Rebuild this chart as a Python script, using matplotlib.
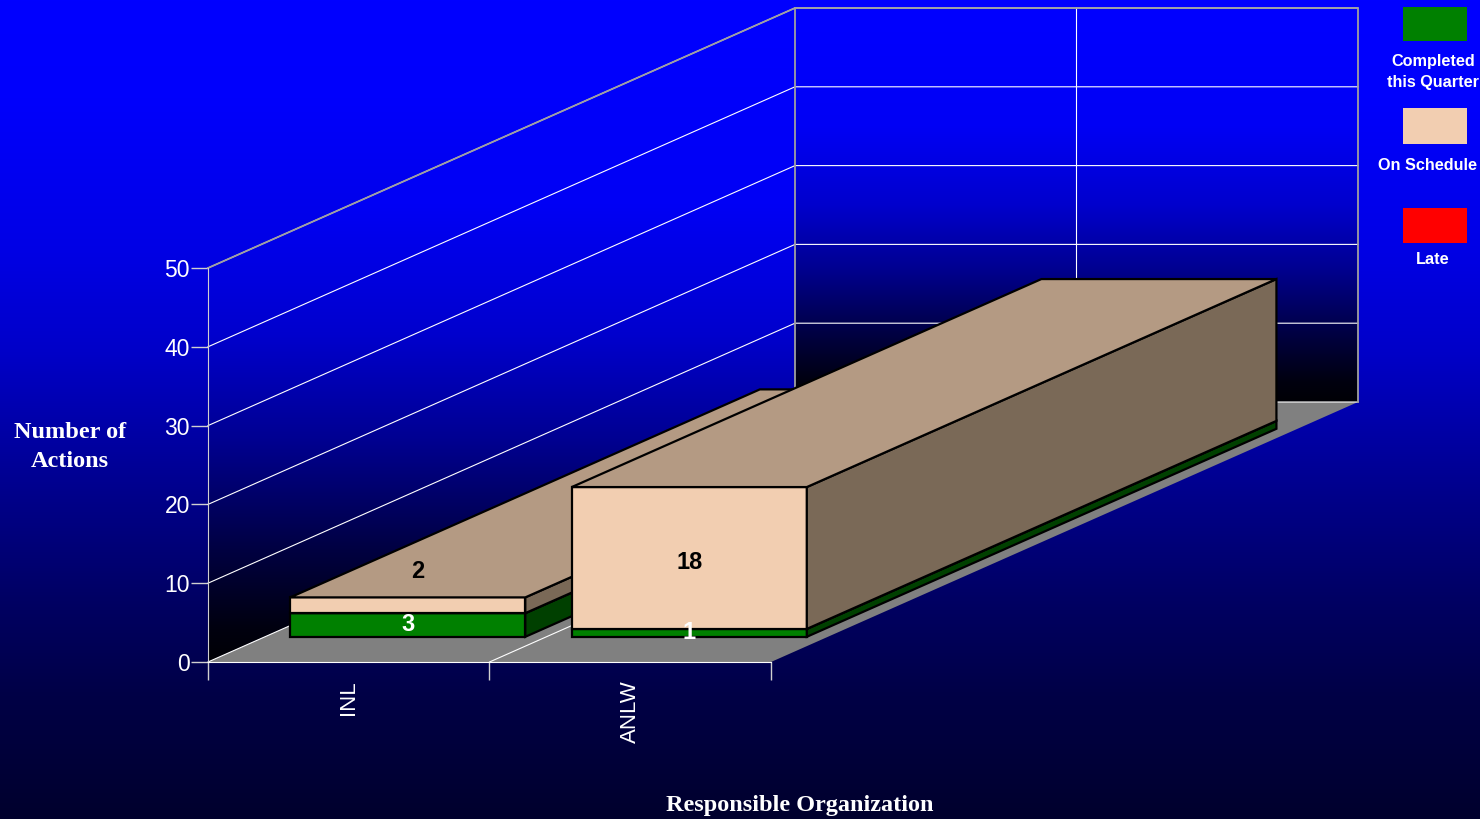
import numpy as np
import matplotlib
matplotlib.use("Agg")
import matplotlib.pyplot as plt
from matplotlib.patches import Polygon, Rectangle
from matplotlib.ticker import FixedLocator

# ---------------- data ----------------
categories = ["INL", "ANLW"]
series_names = ["Completed\nthis Quarter", "On Schedule", "Late"]
completed = [3, 1]
on_schedule = [2, 18]
late = [0, 0]
series_values = [completed, on_schedule, late]
y_ticks = [0, 10, 20, 30, 40, 50]
y_max = 50

# ---------------- style ----------------
front_cols = ["#008000", "#F2CEB1", "#FF0000"]
side_cols = ["#004000", "#7A6957", "#800000"]
top_cols = ["#006000", "#B49A83", "#C00000"]
label_cols = ["white", "black", "white"]
SANS = "Liberation Sans"
SERIF = "Liberation Serif"

W, H = 1480, 819
X0_PX, Y0_PX = 208, 662          # front origin of the plot box (pixels)
CAT_PX, VAL_PX = 281.5, 7.88      # pixels per category / per value unit
DEPTH_DX_PX, DEPTH_DY_PX = 587, 260
DX = DEPTH_DX_PX / CAT_PX
DV = DEPTH_DY_PX / VAL_PX
BAR_LEFT, BAR_W = 0.09, 0.835
D0, D1 = 0.097, 0.897

fig = plt.figure(figsize=(W / 100, H / 100), dpi=100)
ax = fig.add_axes([0, 0, 1, 1])
xlim = (-X0_PX / CAT_PX, (W - X0_PX) / CAT_PX)
ylim = (-(H - Y0_PX) / VAL_PX, Y0_PX / VAL_PX)


def P(x, v, d):
    return (x + d * DX, v + d * DV)


def grad(table_f, table_v, n=400):
    f = np.linspace(0, 1, n)
    b = np.interp(f, table_f, table_v) / 255.0
    img = np.zeros((n, 1, 3))
    img[:, 0, 2] = b
    return img


# background gradient
bg = grad([0, 0.12, 0.3, 0.43, 0.6, 0.73, 0.85, 1.0],
          [255, 252, 230, 200, 140, 100, 70, 45])
ax.imshow(bg, extent=(xlim[0], xlim[1], ylim[0], ylim[1]), aspect="auto",
          origin="upper", interpolation="bilinear", zorder=0)

wall_f = [0, 0.3, 0.5, 0.66, 0.83, 0.95, 1.0]
wall_v = [255, 245, 205, 145, 65, 15, 5]
ncat = len(categories)

# side wall
side_poly = Polygon([P(0, 0, 0), P(0, y_max, 0), P(0, y_max, 1), P(0, 0, 1)],
                    closed=True, transform=ax.transData)
im = ax.imshow(grad(wall_f, wall_v), extent=(0, DX, 0, y_max + DV), aspect="auto",
               origin="upper", interpolation="bilinear", zorder=1)
im.set_clip_path(side_poly)

# back wall
ax.imshow(grad(wall_f, wall_v), extent=(DX, ncat + DX, DV, y_max + DV), aspect="auto",
          origin="upper", interpolation="bilinear", zorder=1)

# floor
ax.add_patch(Polygon([P(0, 0, 0), P(ncat, 0, 0), P(ncat, 0, 1), P(0, 0, 1)],
                     closed=True, facecolor="#808080", edgecolor="none", zorder=2))

# gridlines
for v in y_ticks:
    a, b, c = P(0, v, 0), P(0, v, 1), P(ncat, v, 1)
    ax.plot([a[0], b[0], c[0]], [a[1], b[1], c[1]], color="white", lw=0.8, zorder=3)
for i in range(1, ncat):
    a, b, c = P(i, 0, 0), P(i, 0, 1), P(i, y_max, 1)
    ax.plot([a[0], b[0], c[0]], [a[1], b[1], c[1]], color="white", lw=0.8, zorder=3)
# wall borders
for pts in ([P(0, y_max, 0), P(0, y_max, 1), P(ncat, y_max, 1), P(ncat, 0, 1)],
            [P(0, 0, 1), P(0, y_max, 1)]):
    xs, ys = zip(*pts)
    ax.plot(xs, ys, color="#A0A0A0", lw=1.3, zorder=3)

# bars
z = 10
label_offsets = {(0, 1): (7.5, 24), (1, 1): (0, -3.5)}
for i, cat in enumerate(categories):
    base = 0
    xl, xr = i + BAR_LEFT, i + BAR_LEFT + BAR_W
    for k, vals in enumerate(series_values):
        val = vals[i]
        if val <= 0:
            continue
        v0, v1 = base, base + val
        faces = [
            ([P(xl, v0, D0), P(xr, v0, D0), P(xr, v1, D0), P(xl, v1, D0)], front_cols[k]),
            ([P(xr, v0, D0), P(xr, v0, D1), P(xr, v1, D1), P(xr, v1, D0)], side_cols[k]),
            ([P(xl, v1, D0), P(xr, v1, D0), P(xr, v1, D1), P(xl, v1, D1)], top_cols[k]),
        ]
        for pts, col in faces:
            ax.add_patch(Polygon(pts, closed=True, facecolor=col, edgecolor="black",
                                 lw=1.6, joinstyle="miter", zorder=z))
        z += 1
        base = v1
    base = 0
    for k, vals in enumerate(series_values):
        val = vals[i]
        if val <= 0:
            continue
        cx, cy = P((xl + xr) / 2, base + val / 2, D0)
        off = label_offsets.get((i, k), (0, 0))
        ax.annotate(str(val), (cx, cy), xytext=off, textcoords="offset points",
                    ha="center", va="center", color=label_cols[k], fontsize=17,
                    fontweight="bold", family=SANS, zorder=50)
        base += val

ax.set_xlim(*xlim)
ax.set_ylim(*ylim)
ax.patch.set_visible(False)

# axes spines / ticks
for s in ("top", "right"):
    ax.spines[s].set_visible(False)
ax.spines["left"].set_position(("data", 0))
ax.spines["left"].set_bounds(0, y_max)
ax.spines["left"].set_color("#D0D0D0")
ax.spines["left"].set_zorder(4)
ax.spines["bottom"].set_position(("data", 0))
ax.spines["bottom"].set_bounds(0, ncat)
ax.spines["bottom"].set_color("white")
ax.spines["bottom"].set_zorder(4)

ax.set_yticks(y_ticks, [str(t) for t in y_ticks])
ax.tick_params(axis="y", colors="#D0D0D0", labelcolor="white", length=12, width=1,
               direction="out", labelsize=16.5, pad=1)
for t in ax.get_yticklabels():
    t.set_family(SANS)
ax.set_xticks([i + 0.5 for i in range(ncat)], categories, rotation=90)
ax.xaxis.set_minor_locator(FixedLocator(list(range(ncat + 1))))
ax.tick_params(axis="x", which="major", length=0, pad=13, labelsize=16, labelcolor="white")
ax.tick_params(axis="x", which="minor", length=13, width=1, color="#D0D0D0", direction="out")
for t in ax.get_xticklabels():
    t.set_family(SANS)

# axis titles
fig.text(70 / W, 1 - 447 / H, "Number of\nActions", ha="center", va="center",
         family=SERIF, fontweight="bold", fontsize=17.5, color="white", linespacing=1.55)
fig.text(800 / W, 1 - 806 / H, "Responsible Organization", ha="center", va="center",
         family=SERIF, fontweight="bold", fontsize=17.5, color="white")

# legend
sw_top = [7, 108, 208]
sw_h = [34, 36, 35]
txt_y = [72, 166, 260]
txt_x = [1433, 1428, 1433]
for k, name in enumerate(series_names):
    fig.patches.append(Rectangle((1403 / W, 1 - (sw_top[k] + sw_h[k]) / H), 64 / W, sw_h[k] / H,
                                 transform=fig.transFigure, facecolor=front_cols[k],
                                 edgecolor="none"))
    fig.text(txt_x[k] / W, 1 - txt_y[k] / H, name, ha="center", va="center",
             family=SANS, fontweight="bold", fontsize=11.7, color="white", linespacing=1.45)

fig.savefig("out.png", dpi=100)
